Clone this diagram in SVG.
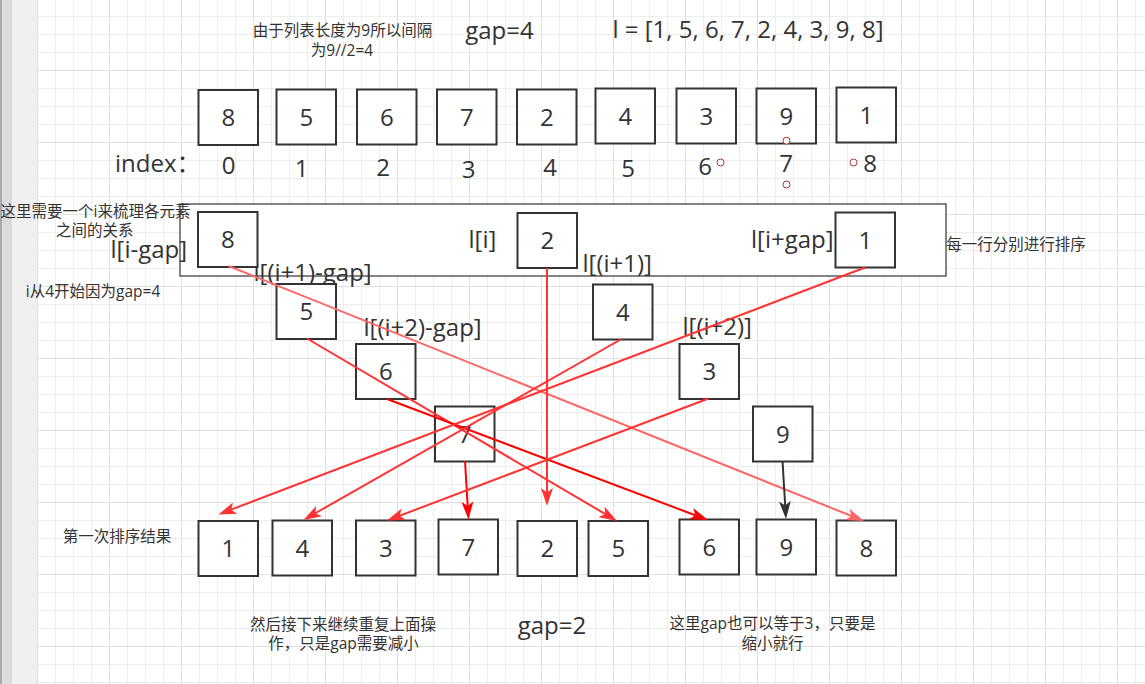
<svg xmlns="http://www.w3.org/2000/svg" width="1145" height="684" viewBox="0 0 1145 684">
<style>
.box{fill:#fff;stroke:#333;stroke-width:2}
.num{font-family:"Open Sans","Noto Sans CJK SC",sans-serif;font-size:24px;fill:#333;text-anchor:middle}
.lbl{font-family:"Open Sans","Noto Sans CJK SC",sans-serif;font-size:24px;fill:#333}
.note{font-family:"Open Sans","Noto Sans CJK SC",sans-serif;font-size:15.5px;fill:#333;text-anchor:middle}
.edge{fill:none;stroke-width:2}
.pt{fill:#fff;stroke:#a33;stroke-width:1}
</style>
<defs>
<pattern id="grid" x="37" y="-2" width="72" height="72" patternUnits="userSpaceOnUse">
<path d="M18.5 0V72M36.5 0V72M54.5 0V72M0 18.5H72M0 36.5H72M0 54.5H72" stroke="#eeeeee" stroke-width="1" fill="none"/>
<path d="M0.5 0V72M0 0.5H72" stroke="#e0e0e0" stroke-width="1" fill="none"/>
</pattern>
<marker id="a33" viewBox="0 0 18 12" refX="8" refY="6" markerWidth="18" markerHeight="12" markerUnits="userSpaceOnUse" orient="auto"><path d="M0,0 L18,6 L0,12 L4.5,6 Z" fill="#FF3333"/></marker>
<marker id="a66" viewBox="0 0 18 12" refX="8" refY="6" markerWidth="18" markerHeight="12" markerUnits="userSpaceOnUse" orient="auto"><path d="M0,0 L18,6 L0,12 L4.5,6 Z" fill="#FF6666"/></marker>
<marker id="a00" viewBox="0 0 18 12" refX="8" refY="6" markerWidth="18" markerHeight="12" markerUnits="userSpaceOnUse" orient="auto"><path d="M0,0 L18,6 L0,12 L4.5,6 Z" fill="#FF0000"/></marker>
<marker id="aK" viewBox="0 0 18 12" refX="8" refY="6" markerWidth="18" markerHeight="12" markerUnits="userSpaceOnUse" orient="auto"><path d="M0,0 L18,6 L0,12 L4.5,6 Z" fill="#333333"/></marker>
</defs>

<g id="background">
<rect x="0" y="0" width="1145" height="684" fill="#fff"/>
<rect x="37" y="0" width="1108" height="684" fill="url(#grid)"/>
<rect x="0" y="0" width="2" height="684" fill="#aaaaaa"/>
<rect x="2" y="0" width="10.5" height="684" fill="#dcdcdc"/>
<rect x="12.5" y="0" width="24.5" height="684" fill="#f0f0f0"/>
</g>

<g id="texts-top">
<text class="note" x="342.5" y="35.5">由于列表长度为9所以间隔</text>
<text class="note" x="342" y="55.5">为9//2=4</text>
<text class="num" x="499.5" y="39">gap=4</text>
<text class="lbl" x="612.5" y="37.5">l = [1, 5, 6, 7, 2, 4, 3, 9, 8]</text>
</g>

<g id="top-row">
<g id="top-8"><rect class="box" x="198.5" y="90" width="59.5" height="55"/><text class="num" x="228.25" y="126">8</text></g>
<g id="top-5"><rect class="box" x="276.5" y="89.5" width="59.5" height="55"/><text class="num" x="306.25" y="125.5">5</text></g>
<g id="top-6"><rect class="box" x="357" y="89.5" width="59.5" height="55"/><text class="num" x="386.75" y="125.5">6</text></g>
<g id="top-7"><rect class="box" x="437" y="89.5" width="59.5" height="55"/><text class="num" x="466.75" y="125.5">7</text></g>
<g id="top-2"><rect class="box" x="517" y="89.5" width="59.5" height="55"/><text class="num" x="546.75" y="125.5">2</text></g>
<g id="top-4"><rect class="box" x="595.5" y="88.5" width="59.5" height="55"/><text class="num" x="625.25" y="124.5">4</text></g>
<g id="top-3"><rect class="box" x="676.5" y="88.5" width="59.5" height="55"/><text class="num" x="706.25" y="124.5">3</text></g>
<g id="top-9"><rect class="box" x="756.5" y="88.5" width="59.5" height="55"/><text class="num" x="786.25" y="124.5">9</text></g>
<g id="top-1"><rect class="box" x="836.5" y="87.5" width="59.5" height="55"/><text class="num" x="866.25" y="123.5">1</text></g>
</g>

<g id="index-labels">
<text class="lbl" x="115" y="172">index：</text>
<text class="num" x="228.5" y="173.5">0</text>
<text class="num" x="301.5" y="176.5">1</text>
<text class="num" x="383" y="175.5">2</text>
<text class="num" x="468.5" y="177.5">3</text>
<text class="num" x="550" y="175.5">4</text>
<text class="num" x="628" y="176.5">5</text>
<text class="num" x="705" y="174.5">6</text>
<text class="num" x="786" y="171.5">7</text>
<text class="num" x="870" y="171.5">8</text>
</g>

<g id="points">
<circle class="pt" cx="720.5" cy="162.5" r="3.5"/>
<circle class="pt" cx="786.5" cy="140.7" r="3.5"/>
<circle class="pt" cx="786.5" cy="184.5" r="3.5"/>
<circle class="pt" cx="853.5" cy="162.5" r="3.5"/>
</g>

<g id="group-frame">
<rect x="180" y="204" width="766" height="72" fill="#fff" stroke="#333" stroke-width="1.2"/>
</g>

<g id="notes-mid">
<text class="note" x="95.5" y="217">这里需要一个i来梳理各元素</text>
<text class="note" x="94.7" y="236">之间的关系</text>
<text class="note" x="93" y="297">i从4开始因为gap=4</text>
<text class="note" x="1016" y="249.8">每一行分别进行排序</text>
<text class="note" x="117" y="542">第一次排序结果</text>
</g>

<g id="mid-labels">
<text class="lbl" x="110.5" y="258">l[i-gap]</text>
<text class="lbl" x="468.5" y="248.4">l[i]</text>
<text class="lbl" x="751" y="247.5">l[i+gap]</text>
<text class="lbl" x="253.5" y="280.5">l[(i+1)-gap]</text>
<text class="lbl" x="582.5" y="271.7">l[(i+1)]</text>
<text class="lbl" x="363.5" y="336">l[(i+2)-gap]</text>
<text class="lbl" x="682.5" y="335">l[(i+2)]</text>
</g>

<g id="mid-row">
<g id="mid-8"><rect class="box" x="198" y="212" width="59.5" height="55"/><text class="num" x="227.75" y="248">8</text></g>
<g id="mid-2"><rect class="box" x="517.5" y="213" width="59.5" height="55"/><text class="num" x="547.25" y="249">2</text></g>
<g id="mid-1"><rect class="box" x="835.5" y="212.5" width="59.5" height="55"/><text class="num" x="865.25" y="248.5">1</text></g>
<g id="mid-5"><rect class="box" x="276.5" y="284" width="59.5" height="55"/><text class="num" x="306.25" y="320">5</text></g>
<g id="mid-4"><rect class="box" x="593" y="284.5" width="59.5" height="55"/><text class="num" x="622.75" y="320.5">4</text></g>
<g id="mid-6"><rect class="box" x="356" y="344" width="59.5" height="55"/><text class="num" x="385.75" y="380">6</text></g>
<g id="mid-3"><rect class="box" x="679.5" y="344" width="59.5" height="55"/><text class="num" x="709.25" y="380">3</text></g>
<g id="mid-7"><rect class="box" x="435" y="406.5" width="59.5" height="55"/><text class="num" x="464.75" y="442.5">7</text></g>
<g id="mid-9"><rect class="box" x="753" y="406.5" width="59.5" height="55"/><text class="num" x="782.75" y="442.5">9</text></g>
</g>

<g id="bottom-row">
<g id="bot-1"><rect class="box" x="198.5" y="521" width="59.5" height="55"/><text class="num" x="228.25" y="557">1</text></g>
<g id="bot-4"><rect class="box" x="272.5" y="520.5" width="59.5" height="55"/><text class="num" x="302.25" y="556.5">4</text></g>
<g id="bot-3"><rect class="box" x="356" y="520.5" width="59.5" height="55"/><text class="num" x="385.75" y="556.5">3</text></g>
<g id="bot-7"><rect class="box" x="438.5" y="519.5" width="59.5" height="55"/><text class="num" x="468.25" y="555.5">7</text></g>
<g id="bot-2"><rect class="box" x="517.5" y="521" width="59.5" height="55"/><text class="num" x="547.25" y="557">2</text></g>
<g id="bot-5"><rect class="box" x="588.5" y="521" width="59.5" height="55"/><text class="num" x="618.25" y="557">5</text></g>
<g id="bot-6"><rect class="box" x="679.5" y="519.5" width="59.5" height="55"/><text class="num" x="709.25" y="555.5">6</text></g>
<g id="bot-9"><rect class="box" x="756.5" y="519.5" width="59.5" height="55"/><text class="num" x="786.25" y="555.5">9</text></g>
<g id="bot-8"><rect class="box" x="836.5" y="520.5" width="59.5" height="55"/><text class="num" x="866.25" y="556.5">8</text></g>
</g>

<g id="connectors">
<path class="edge" stroke="#FF6666" marker-end="url(#a66)" d="M228.5 266 L854.7 517.3"/>
<path class="edge" stroke="#FF3333" marker-end="url(#a33)" d="M307 338.5 L608.4 515.9"/>
<path class="edge" stroke="#FF0000" marker-end="url(#a00)" d="M387 399 L698.6 516.5"/>
<path class="edge" stroke="#FF0000" marker-end="url(#a00)" d="M465 461 L467.9 509.5"/>
<path class="edge" stroke="#FF3333" marker-end="url(#a33)" d="M547 268 L547 496"/>
<path class="edge" stroke="#FF3333" marker-end="url(#a33)" d="M621.5 339 L312.2 515"/>
<path class="edge" stroke="#FF3333" marker-end="url(#a33)" d="M865 267.5 L227.8 510.9"/>
<path class="edge" stroke="#FF3333" marker-end="url(#a33)" d="M708.5 398.5 L396.3 517"/>
<path class="edge" stroke="#333333" marker-end="url(#aK)" d="M782.5 461 L785.4 509"/>
</g>

<g id="notes-bottom">
<text class="note" x="343" y="629.8">然后接下来继续重复上面操</text>
<text class="note" x="343.5" y="648.8">作，只是gap需要减小</text>
<text class="num" x="552" y="633.5">gap=2</text>
<text class="note" x="772.5" y="628.8">这里gap也可以等于3，只要是</text>
<text class="note" x="772.5" y="648.8">缩小就行</text>
</g>
</svg>
